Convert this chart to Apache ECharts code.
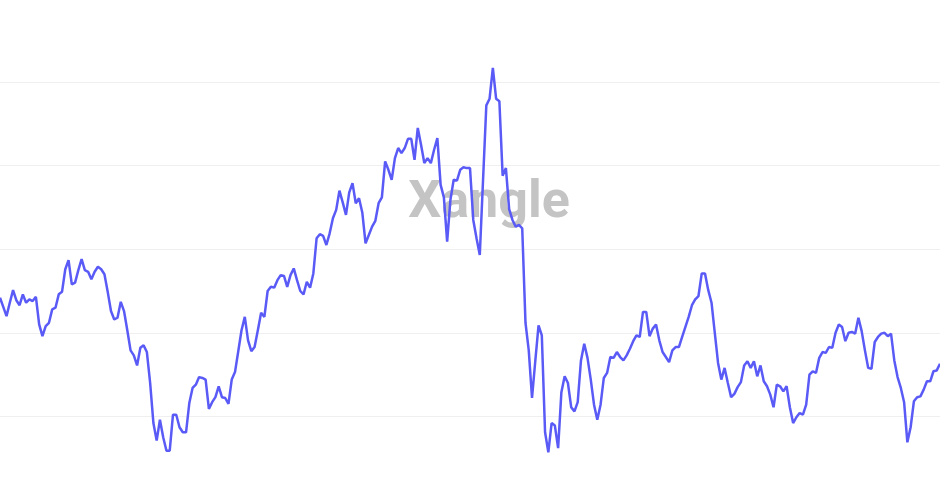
<!DOCTYPE html>
<html>
<head>
<meta charset="utf-8">
<script src="https://cdn.jsdelivr.net/npm/echarts@6/dist/echarts.min.js"></script>
<style>
html,body{margin:0;padding:0;background:#fff;}
#chart{width:940px;height:500px;}
</style>
</head>
<body>
<div id="chart"></div>
<script>
// Values (arbitrary units: one gridline = 100)
const values = [
242,231,220,236,251,239,233,246,236,240,238,243,210,196,208,212,228,230,246,249,
276,287,258,260,275,288,275,273,264,273,279,276,270,249,226,216,218,237,226,203,
179,173,161,182,185,177,140,92,71,96,75,59,59,102,102,87,81,81,116,134,138,
147,146,144,109,117,123,136,123,122,115,144,153,178,203,219,191,178,183,203,224,
219,250,255,254,263,269,268,255,269,277,263,250,246,261,254,271,313,318,316,305,
319,337,347,370,356,341,368,379,355,361,344,307,317,327,334,355,362,405,395,383,
409,421,415,421,432,432,407,445,425,403,409,403,419,433,377,362,309,359,383,382,
395,398,397,397,335,313,293,383,472,480,517,480,477,388,397,348,335,327,329,325,
212,179,122,166,209,197,81,57,92,89,62,129,148,140,111,106,117,167,187,170,
144,114,96,114,146,152,171,170,177,171,167,173,181,190,197,195,225,225,196,205,
210,191,177,171,165,179,183,183,195,207,219,233,240,244,271,271,251,236,200,164,
144,158,140,123,127,135,141,161,166,158,166,148,161,142,136,126,111,138,136,130,
136,111,92,99,104,102,114,150,154,152,170,177,176,183,182,200,210,207,190,200,
201,199,218,202,179,158,157,189,195,199,200,196,199,167,147,134,117,69,87,118,
123,124,132,142,142,154,155,163
];
const categories = values.map((_, i) => String(i + 1));
const yTicks = [0, 100, 200, 300, 400, 500];
const watermarkText = 'Xangle';

const chart = echarts.init(document.getElementById('chart'), null, {renderer: 'canvas'});
chart.setOption({
  animation: false,
  backgroundColor: '#ffffff',
  grid: {left: 0, right: 0, top: 82, bottom: 0, containLabel: false},
  graphic: [{
    type: 'text',
    z: -10,
    x: 0, y: 0,
    style: {
      text: watermarkText,
      x: 489,
      y: 230,
      textAlign: 'center',
      textVerticalAlign: 'bottom',
      font: 'bold 52px Roboto',
      fill: '#c4c4c4'
    }
  }],
  xAxis: {
    type: 'category',
    data: categories,
    boundaryGap: false,
    axisLine: {show: false},
    axisTick: {show: false},
    axisLabel: {show: false},
    splitLine: {show: false}
  },
  yAxis: {
    type: 'value',
    min: yTicks[0],
    max: yTicks[yTicks.length - 1],
    interval: 100,
    axisLine: {show: false},
    axisTick: {show: false},
    axisLabel: {show: false},
    splitLine: {show: true, lineStyle: {color: '#efefef', width: 1}}
  },
  series: [{
    type: 'line',
    data: values,
    showSymbol: false,
    symbol: 'none',
    clip: false,
    z: 5,
    lineStyle: {color: '#5a5af6', width: 2.5},
    itemStyle: {color: '#5a5af6'}
  }]
});
</script>
</body>
</html>
